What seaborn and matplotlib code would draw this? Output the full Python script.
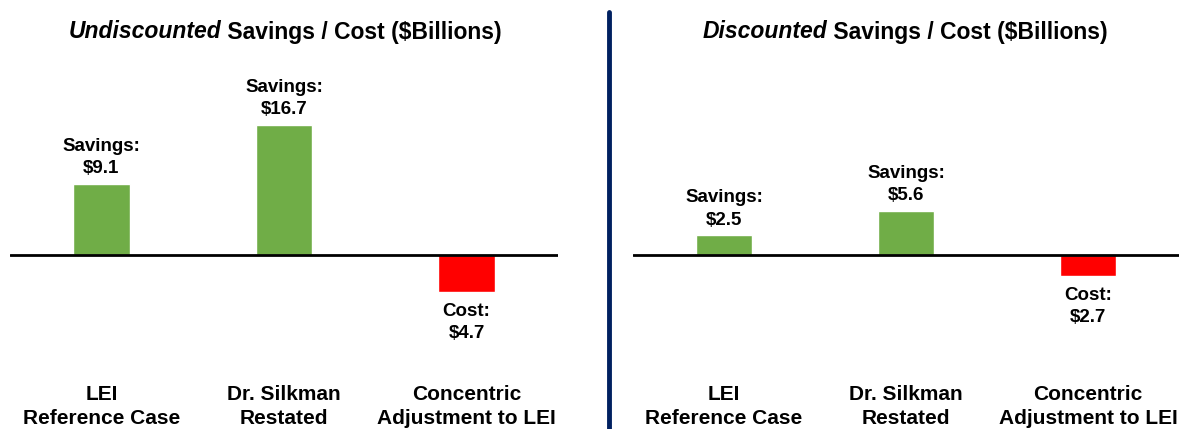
import matplotlib
matplotlib.use("Agg")
import matplotlib.pyplot as plt
import seaborn as sns
import pandas as pd

sns.set_theme(style="white")
plt.rcParams['font.family'] = ['Liberation Sans', 'DejaVu Sans']

categories = ["LEI\nReference Case", "Dr. Silkman\nRestated", "Concentric\nAdjustment to LEI"]
undiscounted = [9.1, 16.7, -4.7]
discounted = [2.5, 5.6, -2.7]
label_kind = ["Savings:", "Savings:", "Cost:"]
titles_italic = ["Undiscounted", "Discounted"]
title_rest = " Savings / Cost ($Billions)"
colors = ["#70AD47", "#70AD47", "#FF0000"]

W, H = 1181, 429
fig = plt.figure(figsize=(W / 100, H / 100), dpi=100)

def fx(px):
    return px / W

def fy(py):
    return 1 - py / H

ax_top, ax_bot = 50, 350
axes_specs = [(10, 558), (633, 1179)]
ylim = (-12.2, 26.3)

series = [undiscounted, discounted]
renderer = fig.canvas.get_renderer()

for i, (x0, x1) in enumerate(axes_specs):
    ax = fig.add_axes([fx(x0), fy(ax_bot), fx(x1 - x0), (ax_bot - ax_top) / H])
    df = pd.DataFrame({"cat": categories, "val": series[i]})
    sns.barplot(data=df, x="cat", y="val", hue="cat", palette=colors,
                legend=False, width=0.31, ax=ax, saturation=1)
    ax.set_xlim(-0.5, 2.5)
    ax.set_ylim(*ylim)
    ax.axhline(0, color="black", lw=2, zorder=3)
    for s in ax.spines.values():
        s.set_visible(False)
    ax.set_yticks([])
    ax.set_xlabel("")
    ax.set_ylabel("")
    ax.tick_params(axis="x", length=0, pad=25)
    ax.set_xticks(range(len(categories)))
    ax.set_xticklabels(categories, fontsize=15, fontweight="bold", color="black",
                       linespacing=1.35)
    for j, v in enumerate(series[i]):
        txt = f"{label_kind[j]}\n${abs(v):.1f}"
        if v >= 0:
            ax.annotate(txt, (j, v), xytext=(0, 5), textcoords="offset points",
                        ha="center", va="bottom", fontsize=13.5, fontweight="bold",
                        color="black", linespacing=1.4)
        else:
            ax.annotate(txt, (j, v), xytext=(0, -8), textcoords="offset points",
                        ha="center", va="top", fontsize=13.5, fontweight="bold",
                        color="black", linespacing=1.4)

    # Title: italic part + normal part, centred over the panel
    cx = 285 if i == 0 else 905
    ty = fy(32)
    t1 = fig.text(0, ty, titles_italic[i], fontsize=16.5, fontweight="bold",
                  fontstyle="italic", va="center", ha="left", color="black")
    t2 = fig.text(0, ty, title_rest, fontsize=16.5, fontweight="bold",
                  va="center", ha="left", color="black")
    w1 = t1.get_window_extent(renderer).width
    w2 = t2.get_window_extent(renderer).width
    start = cx - (w1 + w2) / 2
    t1.set_x(fx(start))
    t2.set_x(fx(start + w1))

# divider
fig.add_artist(plt.Line2D([fx(609), fx(609)], [fy(12), fy(429)], color="#002060",
                          lw=3.5, transform=fig.transFigure))

fig.savefig("out.png", dpi=100)
